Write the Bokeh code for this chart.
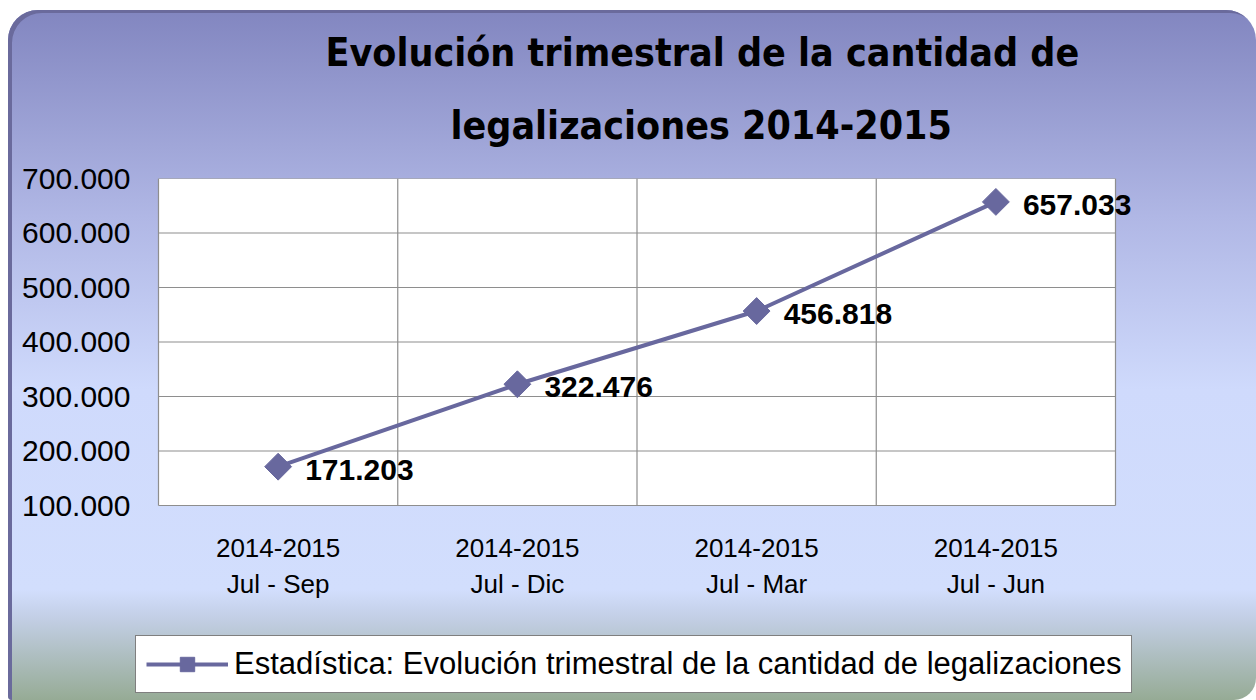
import numpy as np
from bokeh.plotting import figure
from bokeh.models import ColumnDataSource, FixedTicker, Title, Range1d
from bokeh.core.properties import value
from bokeh.embed import file_html
from bokeh.resources import INLINE

# ---- data ----
periods_year = ["2014-2015", "2014-2015", "2014-2015", "2014-2015"]
periods_span = ["Jul - Sep", "Jul - Dic", "Jul - Mar", "Jul - Jun"]
values = [171203, 322476, 456818, 657033]
y_ticks = [100000, 200000, 300000, 400000, 500000, 600000, 700000]
series_name = "Estadística: Evolución trimestral de la cantidad de legalizaciones"
title_line1 = "Evolución trimestral de la cantidad de"
title_line2 = "legalizaciones 2014-2015"


def es_fmt(v):
    return f"{v:,}".replace(",", ".")


n = len(values)
xpos = [i + 0.5 for i in range(n)]
src = ColumnDataSource(dict(x=xpos, y=values, lab=[es_fmt(v) for v in values]))

PURPLE = "#68689e"
GRID = "#8e8e8e"

# layout (pixels)
W, H = 1248, 690
PL, PT = 150, 168            # left / top of the white plot area
PLOT_W, PLOT_H = 957, 327
OVL, OVR = 23, 20            # frame overhang left / right
FL = PL - OVL
FR = PL + PLOT_W + OVR
ppx = PLOT_W / n
ppy = PLOT_H / (y_ticks[-1] - y_ticks[0])
x_start, x_end = -OVL / ppx, n + OVR / ppx
y_start = y_ticks[0] - (H - PT - PLOT_H) / ppy   # frame reaches canvas bottom

p = figure(width=W, height=H, output_backend="svg", toolbar_location=None,
           x_range=Range1d(x_start, x_end), y_range=Range1d(y_start, y_ticks[-1]),
           min_border_left=FL, min_border_right=W - FR, min_border_top=PT,
           min_border_bottom=0)

p.styles = {
    "margin-left": "8px",
    "margin-top": "10px",
    "background": "linear-gradient(180deg, #8286c0 0%, #b0b7e5 30%, #cfdafc 55%, "
                  "#d2defd 84%, #c3cfe6 88%, #96ab95 100%)",
    "border-radius": "30px 30px 22px 4px",
    "box-shadow": "inset 4px 3px 0 0 #6a6a9c",
}
p.border_fill_alpha = 0
p.background_fill_alpha = 0
p.outline_line_color = None
p.xgrid.visible = False
p.ygrid.visible = False

# white plot area, gridlines (limited to plot area)
p.quad(left=0, right=n, bottom=y_ticks[0], top=y_ticks[-1],
       fill_color="white", line_color=None, level="underlay")
p.segment(x0=[0] * len(y_ticks), x1=[n] * len(y_ticks), y0=y_ticks, y1=y_ticks,
          line_color=GRID, line_width=1.2, level="underlay")
p.segment(x0=list(range(n + 1)), x1=list(range(n + 1)),
          y0=[y_ticks[0]] * (n + 1), y1=[y_ticks[-1]] * (n + 1),
          line_color=GRID, line_width=1.2, level="underlay")

# titles (last added is outermost)
TFONT = "DejaVu Sans Condensed"
t2 = Title(text=title_line2, align="left", offset=315, text_font=TFONT,
           text_font_size="39px", text_font_style="bold", text_color="black", standoff=61)
t1 = Title(text=title_line1, align="left", offset=190, text_font=TFONT,
           text_font_size="39px", text_font_style="bold", text_color="black", standoff=0)
try:
    t1.standoff = -8
except Exception:
    t1.standoff = 0
p.add_layout(t2, "above")
p.add_layout(t1, "above")

# axes
p.yaxis.ticker = FixedTicker(ticks=y_ticks)
p.yaxis.major_label_overrides = {t: es_fmt(t) for t in y_ticks}
p.yaxis.major_label_text_font = "Liberation Sans"
p.yaxis.major_label_text_font_size = "30px"
p.yaxis.major_label_text_color = "black"
p.yaxis.axis_line_color = None
p.yaxis.major_tick_line_color = None
p.yaxis.minor_tick_line_color = None
p.yaxis.major_tick_out = 0
p.yaxis.major_label_standoff = 28 - OVL

p.xaxis.fixed_location = y_ticks[0]
p.xaxis.ticker = FixedTicker(ticks=xpos)
p.xaxis.major_label_overrides = {x: f"{a}\n{b}" for x, a, b in zip(xpos, periods_year, periods_span)}
p.xaxis.major_label_text_font = "Liberation Sans"
p.xaxis.major_label_text_font_size = "26px"
p.xaxis.major_label_text_color = "black"
p.xaxis.axis_line_color = None
p.xaxis.major_tick_line_color = None
p.xaxis.minor_tick_line_color = None
p.xaxis.major_tick_out = 0
p.xaxis.major_label_standoff = 27

# series
p.line("x", "y", source=src, line_color=PURPLE, line_width=4, legend_label=series_name)
p.scatter("x", "y", source=src, marker="square", angle=np.pi / 4, size=19,
          fill_color=PURPLE, line_color=PURPLE, legend_label=series_name)
p.text("x", "y", text="lab", source=src, x_offset=27, y_offset=3,
       text_font=value("Liberation Sans"), text_font_style="bold",
       text_font_size="30px", text_color="black",
       text_align="left", text_baseline="middle")

lg = p.legend[0]
lg.location = (0, 7)
lg.orientation = "horizontal"
lg.label_text_font = "Liberation Sans"
lg.label_text_font_size = "31px"
lg.label_text_color = "black"
lg.glyph_width = 82
lg.glyph_height = 36
lg.label_standoff = 6
lg.padding = 10
lg.margin = 0
lg.border_line_color = "black"
lg.border_line_width = 1.5
lg.background_fill_color = "white"
lg.background_fill_alpha = 1

open("out.html", "w").write(file_html(p, INLINE))
